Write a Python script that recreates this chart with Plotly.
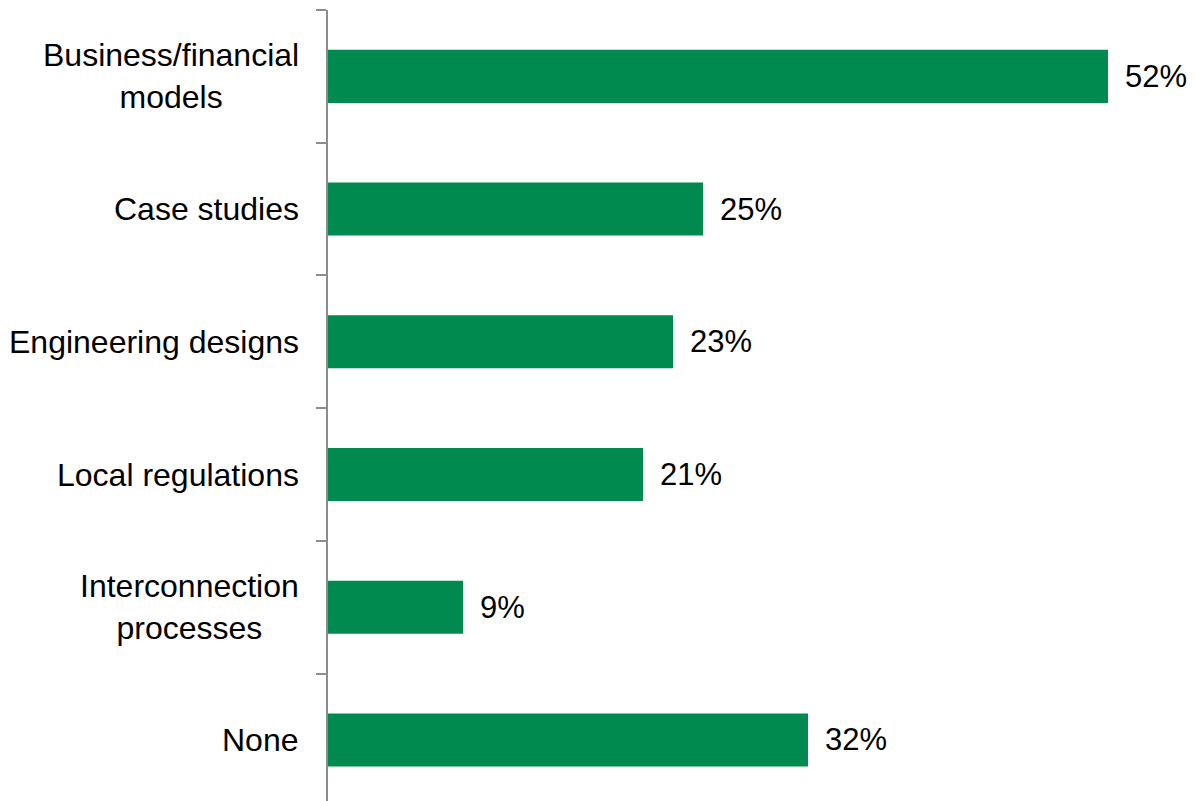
import plotly.graph_objects as go

# Survey responses: share of respondents per resource type
categories = [
    "Business/financial<br>models",
    "Case studies",
    "Engineering designs",
    "Local regulations",
    "Interconnection<br>processes",
    "None",
]
values = [52, 25, 23, 21, 9, 32]

BAR_COLOR = "#008A50"
AXIS_COLOR = "#8C8C8C"
FONT = "Arial, Liberation Sans, sans-serif"

fig = go.Figure(
    go.Bar(
        x=values,
        y=categories,
        orientation="h",
        marker=dict(color=BAR_COLOR, line=dict(width=0)),
        width=0.4,
        hoverinfo="skip",
    )
)

for cat, val in zip(categories, values):
    # Percentage label just past the end of each bar
    fig.add_annotation(
        x=val,
        y=cat,
        text=f"{val}%",
        showarrow=False,
        xanchor="left",
        yanchor="middle",
        xshift=15,
        font=dict(family=FONT, size=31, color="black"),
    )
    # Category label, centre-aligned when wrapped onto two lines
    fig.add_annotation(
        xref="paper",
        x=0,
        y=cat,
        text=cat,
        showarrow=False,
        xanchor="right",
        yanchor="middle",
        align="center",
        xshift=-27,
        font=dict(family=FONT, size=32, color="black"),
    )

fig.update_layout(
    width=1197,
    height=801,
    margin=dict(l=328, r=0, t=10, b=0),
    plot_bgcolor="white",
    paper_bgcolor="white",
    showlegend=False,
    font=dict(family=FONT, size=31, color="black"),
    xaxis=dict(
        visible=False,
        range=[0, 869 / 15],
        showgrid=False,
        zeroline=False,
    ),
    yaxis=dict(
        type="category",
        categoryorder="array",
        categoryarray=categories,
        range=[5.46, -0.5],
        showline=True,
        linecolor=AXIS_COLOR,
        linewidth=2,
        ticks="outside",
        tickson="boundaries",
        ticklen=10,
        tickwidth=2,
        tickcolor=AXIS_COLOR,
        showticklabels=False,
        showgrid=False,
        zeroline=False,
    ),
)

fig.write_html("out.html")
